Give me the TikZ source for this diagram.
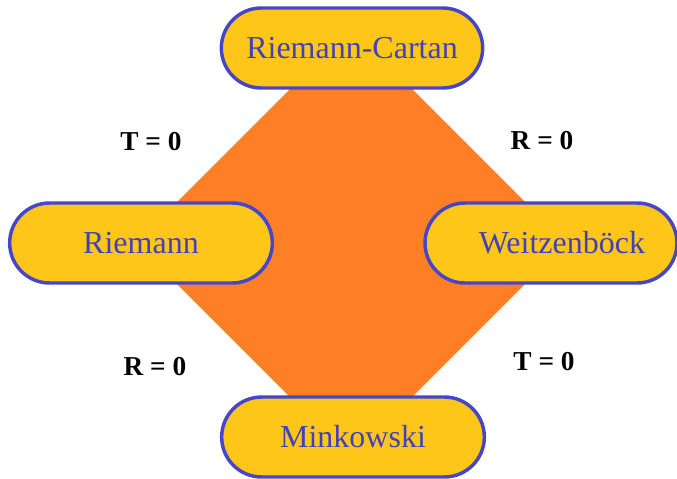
\documentclass[tikz,border=0pt]{standalone}
\usepackage{fontspec}
\setmainfont{Liberation Serif}
\usetikzlibrary{positioning}

\definecolor{diamondorange}{HTML}{FF7F27}
\definecolor{pillyellow}{HTML}{FFC61A}
\definecolor{pillblue}{HTML}{4646C8}
\definecolor{textblue}{HTML}{4242B8}

\begin{document}
\begin{tikzpicture}[
    x=0.75pt, y=-0.75pt,
    pill/.style={draw=pillblue, line width=2.6pt, fill=pillyellow, rounded corners=30pt,
      minimum height=60pt, text=textblue, font=\fontsize{24}{28}\selectfont, inner sep=0pt},
    cond/.style={font=\fontsize{20.5}{24}\selectfont\bfseries, text=black}
  ]
    \useasboundingbox (0,0) rectangle (677,478);

    % the orange square behind the four spaces
    \fill[diamondorange] (351,28) -- (566,243) -- (351,458) -- (136,243) -- cycle;

    \node[pill, minimum width=196pt] (rc) at (352,48) {Riemann-Cartan};
    \node[pill, minimum width=197pt] (riem) at (141,243) {Riemann};
    \node[pill, minimum width=189pt, inner xsep=24pt, text width=141pt, align=right] (weitz) at (551,243) {Weitzenböck};
    \node[pill, minimum width=197pt] (mink) at (353,437) {Minkowski};

    \node[cond] (tl) at (151,142) {T = 0};
    \node[cond] (tr) at (542,141) {R = 0};
    \node[cond] (bl) at (155,367) {R = 0};
    \node[cond] (br) at (544,362) {T = 0};
\end{tikzpicture}
\end{document}
